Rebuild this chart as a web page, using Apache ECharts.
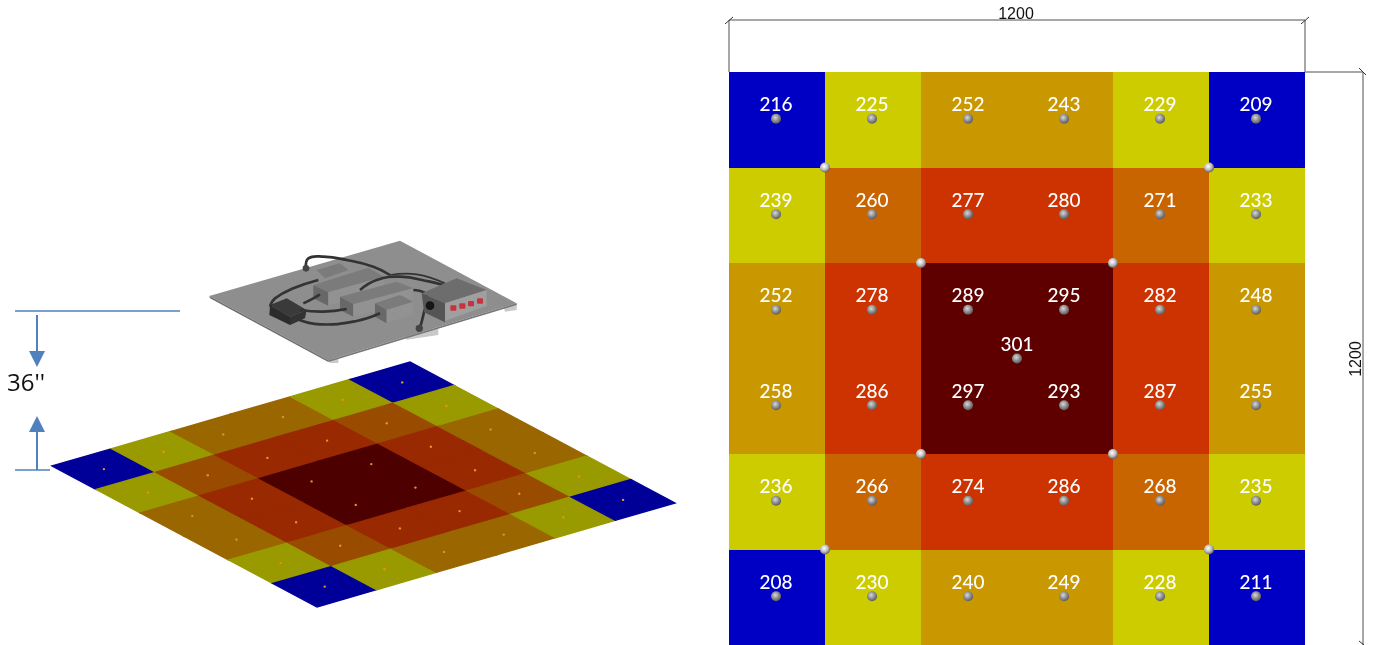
<!DOCTYPE html>
<html><head><meta charset="utf-8">
<style>html,body{margin:0;padding:0;background:#fff;overflow:hidden}#c{width:1376px;height:645px}</style>
<script src="https://cdn.jsdelivr.net/npm/echarts@6/dist/echarts.min.js"></script>
</head><body><div id="c"></div>
<script>
// ---- data -----------------------------------------------------------
const rowValues = [
  [216,225,252,243,229,209],
  [239,260,277,280,271,233],
  [252,278,289,295,282,248],
  [258,286,297,293,287,255],
  [236,266,274,286,268,235],
  [208,230,240,249,228,211]
];
const centreValue = 301;
const cellMm = 200;
const sideMm = 1200;
const dividerPts = [[200,200],[1000,200],[400,400],[800,400],[400,800],[800,800],[200,1000],[1000,1000]];
const bandEdges = [0,220,240,260,273,288,400];
const brightColors = ['#0000c4','#cccc00','#c99700','#c96500','#cc3300','#5e0000'];
const shadedColors = ['#000099','#999900','#996600','#994c00','#992900','#4d0000'];
const dimensionLabel = '1200';
const gapLabel = "36''";

// ---- build ----------------------------------------------------------
const cellData = [], sensorData = [], isoData = [];
rowValues.forEach((r, j) => r.forEach((v, i) => {
  cellData.push([i*cellMm, j*cellMm, v]);
  sensorData.push([(i+.5)*cellMm-2, (j+.5)*cellMm-2, v]);
  isoData.push([i, j, v]);
}));
sensorData.push([sideMm/2, sideMm/2, centreValue]);
const pieces = c => c.map((color,k)=>({gte:bandEdges[k], lt:bandEdges[k+1], color}));

// oblique view of the same 6x6 grid
const ISO = {ox:52, oy:466, ux:358/6, uy:-104/6, vx:265/6, vy:141/6};
const proj = (u,v) => [ISO.ox+ISO.ux*u+ISO.vx*v, ISO.oy+ISO.uy*u+ISO.vy*v];

const sphere = (hi,lo) => ({type:'radial',x:.42,y:.38,r:.65,colorStops:[{offset:0,color:hi},{offset:.55,color:lo},{offset:1,color:'#555'}]});
const GREY='#8a8a8a', BLUE='#4f81bd';
const ln = (x1,y1,x2,y2,stroke,w)=>({type:'line',silent:true,shape:{x1,y1,x2,y2},style:{stroke,lineWidth:w||1.5}});
const poly = (pts,fill)=>({type:'polygon',silent:true,shape:{points:pts},style:{fill}});
const cable = (pts,w)=>({type:'polyline',silent:true,shape:{points:pts,smooth:.45},style:{stroke:'#333',lineWidth:w||8,fill:null}});
const TOP='#7b7b7b', SIDE='#686868', FRONT='#929292';

// equipment plate illustration, drawn in a 3x local space
const plate = [
  poly([[380,372],[415,372],[415,384],[390,384]],'#c9c9c9'),
  poly([[910,212],[950,205],[950,225],[915,230]],'#c9c9c9'),
  poly([[610,300],[715,280],[715,300],[620,314]],'#c9c9c9'),
  poly([[28,183],[600,17],[950,205],[385,376]],'#8e8e8e'),
  poly([[28,183],[385,376],[385,381],[30,190]],'#6f6f6f'),
  poly([[385,376],[950,205],[950,210],[385,381]],'#777'),
  // rear short box
  poly([[350,105],[420,85],[445,105],[375,130]],TOP),
  // long box
  poly([[340,150],[505,98],[552,125],[385,172]],TOP),
  poly([[340,150],[385,172],[385,212],[340,190]],SIDE),
  poly([[385,172],[552,125],[552,165],[385,212]],FRONT),
  // middle box
  poly([[420,185],[590,140],[640,160],[460,208]],TOP),
  poly([[420,185],[460,208],[460,245],[420,225]],SIDE),
  poly([[460,208],[640,160],[640,200],[460,245]],FRONT),
  // short front box
  poly([[525,205],[600,180],[640,200],[560,225]],TOP),
  poly([[525,205],[560,225],[560,265],[525,245]],SIDE),
  poly([[560,225],[640,200],[640,238],[560,265]],FRONT),
  // black junction
  poly([[210,210],[260,190],[320,225],[270,245]],'#3a3a3a'),
  poly([[210,210],[270,245],[270,270],[208,240]],'#2c2c2c'),
  poly([[270,245],[320,225],[315,250],[270,270]],'#333'),
  // cables
  cable([[318,100],[325,70],[370,65],[440,75],[520,95],[570,120]]),
  cable([[355,135],[280,160],[225,190],[210,215]]),
  cable([[310,205],[340,190],[360,178]]),
  cable([[300,225],[370,230],[440,222]]),
  cable([[290,252],[360,268],[470,258],[540,235]]),
  cable([[480,165],[530,135],[600,125],[690,140],[730,150]]),
  cable([[640,165],[680,180],[670,240],[660,278]]),
  cable([[570,120],[650,118],[735,145]],5),
  {type:'circle',silent:true,shape:{cx:318,cy:100,r:10},style:{fill:'#444'}},
  {type:'circle',silent:true,shape:{cx:658,cy:280,r:11},style:{fill:'#444'}},
  // control box
  poly([[665,175],[770,130],[860,165],[735,205]],'#6d6d6d'),
  poly([[665,175],[735,205],[735,262],[672,232]],'#555'),
  poly([[735,205],[860,165],[860,212],[735,258]],'#9f9f9f'),
  {type:'circle',silent:true,shape:{cx:690,cy:212,r:13},style:{fill:'#151515'}},
  ...[[760,219],[787,213],[813,206],[840,198]].map(p=>({type:'rect',silent:true,shape:{x:p[0]-9,y:p[1]-8,width:18,height:16,r:3},style:{fill:'#c8323c'}}))
];

const chart = echarts.init(document.getElementById('c'), null, {renderer:'canvas'});
chart.setOption({
  animation:false,
  backgroundColor:'#fff',
  grid:[
    {left:729, top:72, width:576, height:576},
    {left:0, top:0, width:1376, height:645}
  ],
  xAxis:[
    {type:'value',gridIndex:0,min:0,max:sideMm,interval:cellMm,show:false},
    {type:'value',gridIndex:1,min:0,max:1376,show:false}
  ],
  yAxis:[
    {type:'value',gridIndex:0,min:0,max:sideMm,interval:cellMm,inverse:true,show:false},
    {type:'value',gridIndex:1,min:0,max:645,inverse:true,show:false}
  ],
  visualMap:[
    {type:'piecewise',show:false,seriesIndex:0,dimension:2,pieces:pieces(brightColors)},
    {type:'piecewise',show:false,seriesIndex:3,dimension:2,pieces:pieces(shadedColors)}
  ],
  series:[
    {type:'custom',xAxisIndex:0,yAxisIndex:0,clip:false,silent:true,data:cellData,encode:{x:0,y:1},
     renderItem(p,api){
       const a=api.coord([api.value(0),api.value(1)]), b=api.coord([api.value(0)+cellMm,api.value(1)+cellMm]);
       const c=api.visual('color');
       return {type:'rect',shape:{x:Math.round(a[0]),y:Math.round(a[1]),width:Math.round(b[0]-a[0]),height:Math.round(b[1]-a[1])},style:{fill:c}};
     }},
    {type:'scatter',xAxisIndex:0,yAxisIndex:0,silent:true,data:sensorData,symbolSize:10,z:3,
     itemStyle:{color:sphere('#d8d8d8','#8c8c8c'),opacity:1},
     label:{show:true,position:'top',distance:-1,color:'#ffffff',opacity:1,fontFamily:'Lato',fontSize:19,fontWeight:500,
       formatter:q=>q.value[2]}},
    {type:'scatter',xAxisIndex:0,yAxisIndex:0,silent:true,data:dividerPts,symbolSize:10,z:3,
     itemStyle:{color:sphere('#ffffff','#bdbdbd'),opacity:1}},
    {type:'custom',xAxisIndex:1,yAxisIndex:1,clip:false,silent:true,data:isoData,encode:{x:0,y:1},
     renderItem(p,api){
       const u=api.value(0), v=api.value(1);
       const pts=[[u,v],[u+1,v],[u+1,v+1],[u,v+1]].map(q=>api.coord(proj(q[0],q[1])));
       const c=api.coord(proj(u+.5,v+.5));
       const col=api.visual('color');
       return {type:'group',children:[
         {type:'polygon',shape:{points:pts},style:{fill:col,stroke:col,lineWidth:1.4}},
         {type:'circle',z2:5,shape:{cx:c[0],cy:c[1],r:1.2},style:{fill:'#e8912a'}}
       ]};
     }}
  ],
  graphic:[
    // width dimension
    ln(729,20,1305,20,GREY), ln(729,20,729,72,GREY), ln(1305,20,1305,72,GREY),
    ln(725,24,733,17,'#333',1), ln(1301,24,1309,17,'#333',1),
    {type:'text',silent:true,x:1016,y:15,style:{text:dimensionLabel,fill:'#111',font:'16px "Liberation Sans"',align:'center',verticalAlign:'middle'}},
    // height dimension
    ln(1305,72,1363,72,GREY), ln(1363,72,1363,645,GREY),
    ln(1359,68,1366,75,'#333',1), ln(1359,641,1364,645,'#333',1),
    {type:'text',silent:true,x:1357,y:359,rotation:Math.PI/2,style:{text:dimensionLabel,fill:'#111',font:'16px "Liberation Sans"',align:'center',verticalAlign:'middle'}},
    // gap arrows
    ln(15,311,180,311,BLUE,1.5), ln(15,470,50,470,BLUE,1.5),
    ln(37,315,37,355,BLUE,2), ln(37,428,37,470,BLUE,2),
    poly([[29,351],[45,351],[37,367]],BLUE), poly([[29,432],[45,432],[37,416]],BLUE),
    {type:'text',silent:true,x:7,y:384,style:{text:gapLabel,fill:'#111',font:'24px "Open Sans"',align:'left',verticalAlign:'middle'}},
    // plate
    {type:'group',silent:true,x:200,y:235,scaleX:1/3,scaleY:1/3,children:plate}
  ]
});
</script></body></html>
